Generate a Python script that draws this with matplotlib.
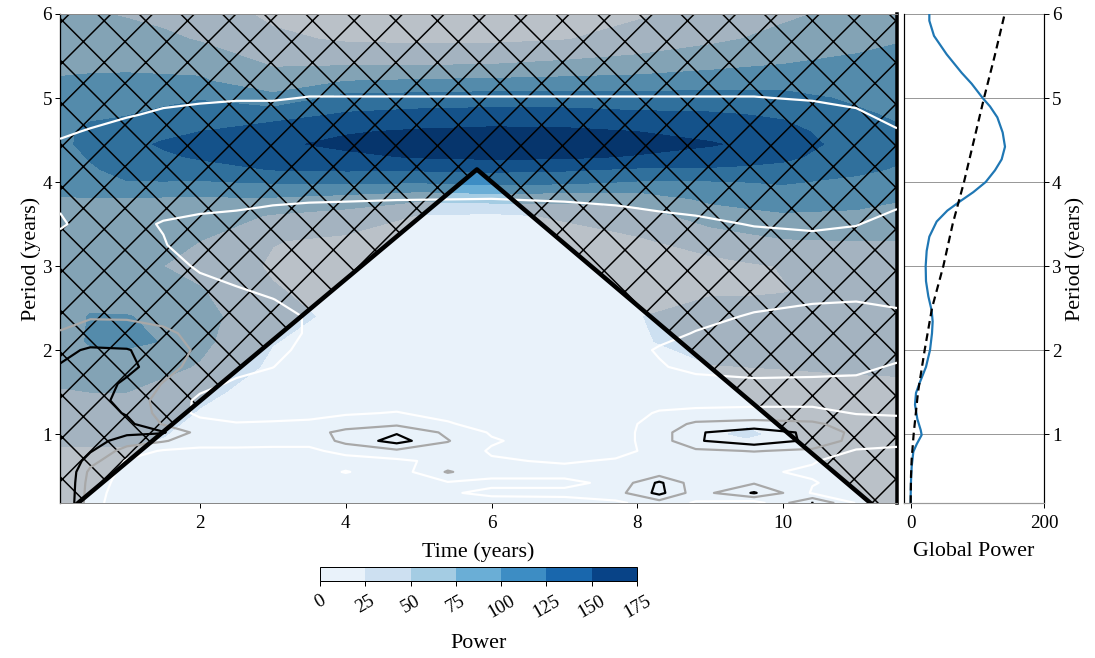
import numpy as np
import matplotlib
matplotlib.use("Agg")
import matplotlib.pyplot as plt

DPI = 250
PX = 72 / DPI  # points per output pixel

plt.rcParams['font.family'] = ['Liberation Serif', 'DejaVu Serif']
plt.rcParams['hatch.linewidth'] = 1.5 * PX

# ---- wavelet power ----
time_power = [0.083, 0.5, 1, 1.5, 2, 3, 4, 5, 6, 7, 8, 9, 9.5, 10, 11, 11.56]
period_power = [0.18, 0.6, 0.85, 1.0, 1.2, 1.5, 1.8, 2.1, 2.4, 2.7, 3.0, 3.3, 3.6,
                3.8, 4.0, 4.15, 4.3, 4.45, 4.6, 4.8, 5.0, 5.2, 5.4, 5.7, 6.0]
# one list per time column, values from the lowest to the highest period
power_by_time = [
    [10, 15, 25, 32, 38, 49, 55, 62, 60, 58, 58, 60, 68, 74, 80, 85, 90, 95, 96, 94, 88, 77, 70, 60, 55],
    [9, 15, 25, 31, 38, 50, 60, 78, 77, 60, 57, 59, 67, 74, 90, 97, 102, 106, 104, 97, 88, 79, 70, 60, 52],
    [8, 15, 25, 30, 38, 50, 62, 80, 76, 62, 56, 58, 66, 73, 99, 108, 114, 118, 112, 99, 88, 80, 70, 60, 48],
    [8, 14, 22, 26, 32, 42, 56, 74, 70, 57, 50, 55, 64, 72, 99, 112, 121, 128, 118, 106, 93, 79, 69, 55, 43],
    [8, 12, 15, 18, 22, 30, 48, 56, 58, 52, 42, 50, 62, 72, 98, 115, 128, 140, 125, 112, 98, 78, 68, 48, 38],
    [8, 10, 12, 14, 15, 16, 20, 26, 32, 27, 22, 26, 48, 72, 102, 126, 138, 146, 138, 115, 82, 60, 48, 30, 20],
    [8, 10, 14, 18, 15, 12, 12, 14, 20, 16, 14, 20, 40, 65, 104, 128, 145, 155, 148, 128, 108, 75, 48, 22, 15],
    [8, 10, 14, 16, 14, 10, 8, 8, 8, 8, 10, 14, 24, 55, 102, 128, 152, 164, 153, 133, 110, 78, 48, 20, 12],
    [8, 10, 12, 14, 12, 8, 6, 6, 6, 6, 8, 12, 20, 60, 108, 130, 155, 170, 156, 135, 112, 80, 50, 20, 10],
    [8, 10, 12, 14, 12, 8, 6, 6, 8, 10, 12, 15, 28, 58, 105, 128, 154, 168, 155, 134, 112, 82, 55, 24, 14],
    [10, 10, 14, 16, 14, 10, 12, 22, 24, 18, 14, 22, 38, 60, 98, 122, 148, 160, 150, 130, 110, 84, 60, 34, 22],
    [10, 12, 18, 22, 20, 14, 24, 35, 36, 22, 18, 35, 62, 80, 98, 122, 140, 152, 143, 128, 110, 88, 68, 45, 32],
    [10, 12, 18, 28, 20, 14, 25, 36, 36, 22, 22, 42, 68, 84, 100, 120, 136, 146, 138, 125, 109, 89, 72, 51, 38],
    [10, 12, 16, 20, 18, 15, 26, 38, 36, 24, 26, 48, 72, 88, 102, 118, 130, 136, 132, 122, 108, 90, 75, 58, 45],
    [10, 12, 15, 18, 18, 18, 28, 38, 38, 34, 36, 50, 70, 84, 95, 105, 112, 116, 113, 104, 96, 88, 80, 68, 58],
    [10, 12, 15, 18, 18, 20, 28, 36, 38, 36, 40, 50, 66, 77, 90, 98, 104, 108, 103, 97, 94, 90, 84, 73, 62],
]
power_levels = [0, 25, 50, 75, 100, 125, 150, 175]

time_sig = [0.083, 0.5, 1.0, 1.5, 2.0, 2.5, 3.0, 3.5, 4.0, 4.7, 5.4, 6.0,
            7.0, 7.7, 8.3, 8.8, 9.6, 10.4, 11.0, 11.56]
period_sig = [0.18, 0.3, 0.42, 0.55, 0.68, 0.8, 0.92, 1.02, 1.12, 1.25, 1.4, 1.6, 1.8,
              2.0, 2.2, 2.4, 2.6, 2.8, 3.0, 3.25, 3.5, 3.7, 3.9, 4.3, 4.6, 4.8, 5.0, 5.2, 6.0]
sig_by_time = [
    [4.5, 4.5, 4.5, 4.5, 4.5, 4.3, 4.2, 4.1, 4.0, 3.9, 3.7, 3.5, 3.05, 2.8, 2.02, 1.9, 1.8, 1.6, 1.5, 1.3, 0.9, 1.05, 1.4, 1.5, 0.8, 0.7, 0.6, 0.5, 0.3],
    [1.3, 1.4, 1.5, 1.7, 2.4, 3.1, 3.4, 3.5, 3.5, 3.6, 3.6, 3.6, 3.5, 3.1, 2.5, 1.9, 1.7, 1.5, 1.4, 1.35, 1.3, 1.3, 1.4, 1.5, 1.1, 0.6, 0.5, 0.4, 0.3],
    [0.5, 0.5, 0.6, 0.7, 0.9, 1.5, 2.6, 3.2, 3.3, 2.9, 2.5, 2.8, 3.3, 3.05, 2.4, 1.9, 1.6, 1.4, 1.3, 1.2, 1.2, 1.3, 1.4, 1.6, 1.5, 0.9, 0.6, 0.5, 0.3],
    [0.4, 0.4, 0.5, 0.5, 0.6, 0.9, 2.1, 3.1, 1.9, 1.6, 1.7, 1.95, 2.4, 2.6, 2.2, 1.7, 1.5, 1.4, 1.3, 1.05, 0.95, 1.2, 1.4, 1.6, 1.5, 1.2, 0.7, 0.5, 0.3],
    [0.4, 0.4, 0.4, 0.5, 0.6, 0.8, 1.4, 1.6, 1.3, 0.8, 0.8, 1.3, 1.6, 1.8, 1.7, 1.5, 1.3, 1.15, 0.9, 0.6, 0.7, 1.2, 1.4, 1.6, 1.5, 1.4, 0.8, 0.5, 0.3],
    [0.4, 0.4, 0.4, 0.5, 0.6, 0.8, 1.4, 1.5, 1.05, 0.7, 0.6, 0.85, 1.3, 1.5, 1.5, 1.4, 1.2, 0.95, 0.7, 0.5, 0.6, 1.1, 1.4, 1.6, 1.6, 1.5, 0.9, 0.5, 0.3],
    [0.4, 0.4, 0.5, 0.5, 0.6, 0.8, 1.3, 1.5, 1.1, 0.7, 0.5, 0.6, 1.02, 1.3, 1.4, 1.2, 1.02, 0.7, 0.5, 0.4, 0.5, 0.95, 1.4, 1.6, 1.6, 1.5, 0.9, 0.5, 0.3],
    [0.4, 0.4, 0.5, 0.6, 0.6, 0.8, 1.3, 1.6, 1.2, 0.7, 0.5, 0.4, 0.5, 0.7, 0.9, 0.95, 0.7, 0.5, 0.4, 0.4, 0.5, 0.85, 1.4, 1.6, 1.6, 1.5, 1.05, 0.5, 0.3],
    [0.4, 0.4, 0.5, 1.05, 0.6, 1.3, 2.3, 2.3, 1.5, 0.9, 0.5, 0.4, 0.4, 0.4, 0.5, 0.5, 0.4, 0.4, 0.3, 0.3, 0.4, 0.8, 1.4, 1.6, 1.6, 1.5, 1.05, 0.5, 0.3],
    [0.5, 0.6, 0.6, 0.5, 0.8, 1.8, 3.4, 2.9, 1.8, 1.05, 0.6, 0.4, 0.3, 0.3, 0.3, 0.3, 0.3, 0.3, 0.3, 0.3, 0.4, 0.7, 1.4, 1.6, 1.6, 1.5, 1.05, 0.5, 0.3],
    [0.6, 0.9, 0.9, 2.1, 1.3, 1.6, 2.05, 1.8, 1.1, 0.7, 0.4, 0.3, 0.3, 0.3, 0.3, 0.3, 0.3, 0.3, 0.3, 0.3, 0.4, 0.65, 1.4, 1.6, 1.7, 1.5, 1.05, 0.5, 0.3],
    [0.6, 1.2, 0.8, 1.3, 1.1, 0.9, 1.1, 0.9, 0.6, 0.4, 0.3, 0.3, 0.3, 0.3, 0.3, 0.3, 0.3, 0.3, 0.3, 0.3, 0.4, 0.6, 1.4, 1.6, 1.7, 1.5, 1.05, 0.5, 0.3],
    [0.7, 1.2, 0.8, 1.3, 0.9, 0.6, 0.5, 0.5, 0.5, 0.4, 0.3, 0.3, 0.3, 0.3, 0.3, 0.3, 0.3, 0.3, 0.3, 0.3, 0.5, 0.8, 1.4, 1.6, 1.7, 1.5, 1.05, 0.5, 0.3],
    [0.8, 1.6, 1.2, 1.4, 1.1, 0.7, 0.6, 0.6, 0.6, 0.5, 0.4, 0.4, 0.4, 0.5, 0.4, 0.4, 0.3, 0.3, 0.3, 0.4, 0.6, 0.95, 1.4, 1.6, 1.7, 1.5, 1.05, 0.5, 0.3],
    [1.5, 3.3, 3.2, 1.3, 1.2, 1.3, 1.5, 1.5, 1.4, 1.1, 0.6, 0.5, 0.9, 1.1, 0.7, 0.5, 0.4, 0.3, 0.3, 0.4, 0.7, 1.1, 1.4, 1.6, 1.6, 1.5, 1.05, 0.5, 0.3],
    [0.9, 1.5, 1.4, 1.1, 1.2, 1.8, 2.9, 2.9, 2.2, 1.2, 0.7, 0.6, 1.3, 1.5, 1.05, 0.7, 0.5, 0.4, 0.4, 0.5, 0.8, 1.2, 1.4, 1.6, 1.6, 1.5, 1.05, 0.5, 0.3],
    [0.5, 3.1, 1.9, 1.1, 1.3, 2.05, 3.6, 3.5, 2.4, 1.3, 0.7, 0.8, 1.4, 1.6, 1.5, 1.1, 0.7, 0.5, 0.5, 0.6, 1.05, 1.3, 1.4, 1.6, 1.6, 1.5, 1.05, 0.5, 0.3],
    [3.05, 0.9, 1.05, 0.9, 1.05, 1.8, 2.8, 2.8, 2.2, 1.3, 0.7, 0.8, 1.3, 1.6, 1.6, 1.3, 0.9, 0.5, 0.4, 0.6, 1.2, 1.4, 1.5, 1.6, 1.6, 1.5, 0.9, 0.5, 0.3],
    [0.95, 0.8, 0.7, 0.6, 0.7, 0.9, 1.6, 1.7, 1.5, 0.95, 0.6, 0.8, 1.2, 1.5, 1.6, 1.4, 0.95, 0.5, 0.4, 0.5, 1.05, 1.4, 1.5, 1.6, 1.5, 1.2, 0.7, 0.5, 0.3],
    [0.7, 0.8, 0.6, 0.5, 0.6, 0.8, 1.3, 1.5, 1.3, 0.9, 0.6, 0.6, 0.9, 1.3, 1.4, 1.2, 0.8, 0.5, 0.4, 0.4, 0.6, 1.05, 1.4, 1.5, 1.1, 0.6, 0.5, 0.4, 0.3],
]
sig_levels = [1, 2, 3]
sig_colors = ['white', '#a8a8a8', 'black']

# ---- cone of influence ----
coi_time = [0.083, 5.8, 11.44]
coi_period = [0.0, 4.15, 0.0]

# ---- global power spectrum ----
gp_period = [0.18, 0.26, 0.44, 0.61, 0.79, 0.88, 0.99, 1.05, 1.18, 1.35, 1.49, 1.62, 1.8,
             2.0, 2.2, 2.34, 2.47, 2.64, 2.82, 3.0, 3.18, 3.35, 3.53, 3.66, 3.77, 3.88,
             4.0, 4.14, 4.27, 4.42, 4.59, 4.77, 4.9, 5.0, 5.17, 5.3, 5.52, 5.74, 5.92, 6.0]
gp_power = [0, 0, 0.5, 1.5, 4, 9, 16.5, 15, 10, 6.5, 8, 14, 23,
            29, 32, 33, 31.5, 26.5, 23, 22.5, 24, 28, 39, 55, 74, 94,
            112.5, 126.5, 136.5, 141.5, 138, 130, 119, 108, 91.5, 76.5, 54, 35, 28, 28]
bg_period = [0.18, 0.5, 0.7, 1.0, 1.5, 2.0, 2.5, 3.0, 3.5, 4.0, 4.5, 5.0, 5.5, 6.0]
bg_power = [0, 0.5, 1.5, 4.5, 11, 21, 32, 49, 63, 80, 95, 110, 126, 141]

W, H = 1095, 658
fig = plt.figure(figsize=(W / DPI, H / DPI), dpi=DPI)

# main wavelet panel
ax = fig.add_axes([60 / W, 1 - 503 / H, 837 / W, 489 / H])
Z = np.array(power_by_time).T
cf = ax.contourf(time_power, period_power, Z, levels=power_levels, cmap='Blues', zorder=1)

x0, x1 = 0.083, 11.56
y0, y1 = 0.18, 6.0
xs = [x0] + coi_time + [x1, x1, x0]
ys = [0.0] + coi_period + [0.0, y1, y1]
ax.fill(xs, ys, facecolor='black', alpha=0.2, edgecolor='none', zorder=2)
ax.fill(xs, ys, facecolor='none', edgecolor='black', hatch='xx', linewidth=0, zorder=2)

S = np.array(sig_by_time).T
ax.contour(time_sig, period_sig, S, levels=sig_levels, colors=sig_colors,
           linewidths=2.2 * PX, zorder=3)
ax.plot(coi_time, coi_period, color='black', lw=4.5 * PX, zorder=4,
        solid_capstyle='butt')

ax.set_xlim(x0, x1)
ax.set_ylim(y0, y1)
ax.set_xticks([2, 4, 6, 8, 10])
ax.set_yticks([1, 2, 3, 4, 5, 6])
ax.tick_params(direction='out', length=5 * PX, width=1 * PX, labelsize=19 * PX, pad=3 * PX)
ax.tick_params(axis='x', pad=7 * PX)
ax.set_xlabel('Time (years)', fontsize=22 * PX, labelpad=10 * PX)
ax.set_ylabel('Period (years)', fontsize=22 * PX, labelpad=1 * PX)
for side in ['top', 'bottom']:
    ax.spines[side].set_color('#888888')
    ax.spines[side].set_linewidth(1 * PX)
ax.spines['left'].set_linewidth(1.3 * PX)
ax.spines['right'].set_linewidth(3.5 * PX)

# global power panel
ax2 = fig.add_axes([904 / W, 1 - 503 / H, 140 / W, 489 / H])
ax2.plot(gp_power, gp_period, color='#1f77b4', lw=2.2 * PX)
ax2.plot(bg_power, bg_period, color='black', lw=2.2 * PX, linestyle=(0, (3.5, 2.2)))
ax2.set_xlim(-10, 200)
ax2.set_ylim(y0, y1)
ax2.set_xticks([0, 200])
ax2.set_yticks([1, 2, 3, 4, 5, 6])
ax2.yaxis.tick_right()
ax2.yaxis.set_label_position('right')
ax2.grid(axis='y', color='#999999', lw=1 * PX)
ax2.tick_params(direction='out', length=5 * PX, width=1 * PX, labelsize=19 * PX, pad=3 * PX)
ax2.tick_params(axis='x', pad=7 * PX)
ax2.set_xlabel('Global Power', fontsize=22 * PX, labelpad=10 * PX)
ax2.set_ylabel('Period (years)', fontsize=22 * PX, labelpad=4 * PX)
ax2.spines['top'].set_visible(False)
ax2.spines['bottom'].set_color('#999999')
for side in ['bottom', 'left', 'right']:
    ax2.spines[side].set_linewidth(1.2 * PX)

# colorbar
cax = fig.add_axes([320 / W, 1 - 581 / H, 317 / W, 14 / H])
cb = fig.colorbar(cf, cax=cax, orientation='horizontal', ticks=power_levels)
cb.outline.set_linewidth(1 * PX)
cb.ax.tick_params(length=5 * PX, width=1 * PX, labelsize=19 * PX, labelrotation=30, pad=6 * PX)
cb.set_label('Power', fontsize=22 * PX, labelpad=13 * PX)

fig.savefig('out.png', dpi=DPI)
